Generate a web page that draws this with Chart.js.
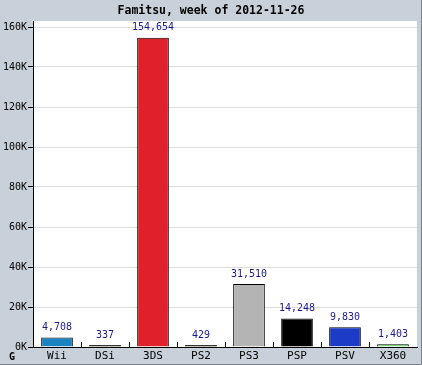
<!DOCTYPE html>
<html>
<head>
<meta charset="utf-8">
<script src="https://cdn.jsdelivr.net/npm/chart.js@4"></script>
<style>
  html, body { margin: 0; padding: 0; background: #c8d0d9; }
  #wrap { width: 422px; height: 365px; }
</style>
</head>
<body>
<div id="wrap"><canvas id="famitsuChart"></canvas></div>
<script>
// datos del gráfico
const platforms = ['Wii', 'DSi', '3DS', 'PS2', 'PS3', 'PSP', 'PSV', 'X360'];
const unitsSold = [4708, 337, 154654, 429, 31510, 14248, 9830, 1403];
const barColors = ['#1a82c0', '#101010', '#e0202a', '#101010', '#b4b4b4', '#000000', '#1c3cc8', '#60e060'];
const yTickValues = [0, 20000, 40000, 60000, 80000, 100000, 120000, 140000, 160000];
const chartTitle = 'Famitsu, week of 2012-11-26';

const MONO = '"DejaVu Sans Mono", "Liberation Mono", monospace';

// fondo, título y borde exterior
const framePlugin = {
    id: 'frame',
    beforeDraw(chart) {
        const c = chart.ctx;
        c.save();
        c.fillStyle = '#c8d0d9';
        c.fillRect(0, 0, chart.width, chart.height);
        const a = chart.chartArea;
        c.fillStyle = '#ffffff';
        c.fillRect(a.left, a.top, a.right - a.left, a.bottom - a.top);
        c.restore();
    },
    afterDraw(chart) {
        const c = chart.ctx;
        c.save();
        c.fillStyle = '#000000';
        c.font = 'bold 11.5px ' + MONO;
        c.textAlign = 'center';
        c.textBaseline = 'middle';
        c.fillText(chartTitle, chart.width / 2, 11);
        // borde derecho / inferior
        c.strokeStyle = '#7a828c';
        c.lineWidth = 1;
        c.beginPath();
        c.moveTo(chart.width - 0.5, 0);
        c.lineTo(chart.width - 0.5, chart.height - 0.5);
        c.lineTo(0, chart.height - 0.5);
        c.stroke();
        // pequeño logo
        c.font = 'bold 10px ' + MONO;
        c.textAlign = 'left';
        c.fillText('G', 9, 357);
        c.restore();
    }
};

// marcas cortas entre categorías y etiquetas de valor
const barExtrasPlugin = {
    id: 'barExtras',
    afterDatasetsDraw(chart) {
        const c = chart.ctx;
        const x = chart.scales.x;
        const a = chart.chartArea;
        c.save();
        c.strokeStyle = '#000000';
        c.lineWidth = 1;
        c.beginPath();
        for (let i = 0; i < platforms.length - 1; i++) {
            const px = Math.round((x.getPixelForValue(i) + x.getPixelForValue(i + 1)) / 2) + 0.5;
            c.moveTo(px, a.bottom);
            c.lineTo(px, a.bottom - 5);
        }
        c.stroke();

        const meta = chart.getDatasetMeta(0);
        c.fillStyle = '#1a1a8c';
        c.font = '10px ' + MONO;
        c.textAlign = 'center';
        c.textBaseline = 'bottom';
        meta.data.forEach((bar, i) => {
            c.fillText(unitsSold[i].toLocaleString('en-US'), bar.x, bar.y - 5);
        });
        c.restore();
    }
};

function createFamitsuChart() {
    const ctx = document.getElementById('famitsuChart').getContext('2d');
    return new Chart(ctx, {
        type: 'bar',
        data: {
            labels: platforms,
            datasets: [{
                data: unitsSold,
                backgroundColor: barColors,
                borderColor: '#000000',
                borderWidth: 1,
                borderSkipped: 'bottom',
                minBarLength: 2,
                barPercentage: 0.66,
                categoryPercentage: 1.0
            }]
        },
        options: {
            responsive: true,
            maintainAspectRatio: false,
            animation: false,
            devicePixelRatio: 1,
            layout: { padding: { left: 0, top: 21, right: 5, bottom: 0 } },
            plugins: {
                legend: { display: false },
                title: { display: false },
                tooltip: { enabled: false }
            },
            scales: {
                x: {
                    grid: { display: false, drawTicks: false },
                    border: { color: '#000000', width: 1 },
                    ticks: {
                        color: '#000000',
                        font: { family: MONO, size: 11 },
                        padding: 3,
                        maxRotation: 0
                    },
                    afterFit(scale) { scale.height = 18; }
                },
                y: {
                    min: 0,
                    max: 163000,
                    afterBuildTicks(scale) {
                        scale.ticks = yTickValues.map(v => ({ value: v }));
                    },
                    grid: {
                        color: '#dcdcdc',
                        tickColor: '#000000',
                        tickLength: 5
                    },
                    border: { color: '#000000', width: 1 },
                    ticks: {
                        color: '#000000',
                        font: { family: MONO, size: 10 },
                        padding: 1,
                        callback: v => (v / 1000) + 'K'
                    },
                    afterFit(scale) { scale.width = 33; }
                }
            }
        },
        plugins: [framePlugin, barExtrasPlugin]
    });
}

document.addEventListener('DOMContentLoaded', function() {
    createFamitsuChart();
});
</script>
</body>
</html>
